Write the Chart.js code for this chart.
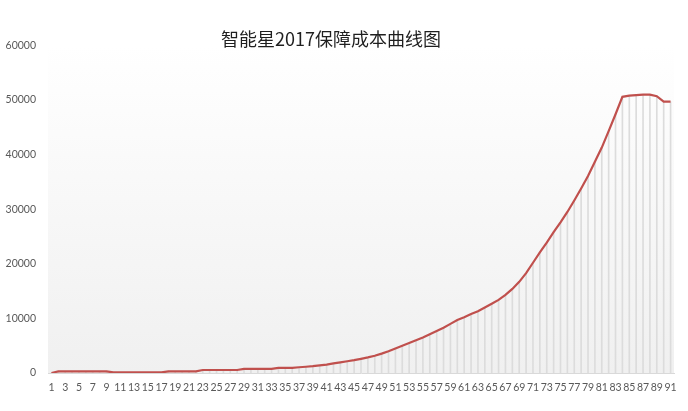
<!DOCTYPE html>
<html>
<head>
<meta charset="utf-8">
<script src="https://cdn.jsdelivr.net/npm/chart.js@4.4.1/dist/chart.umd.min.js"></script>
<style>
html,body{margin:0;padding:0;background:#fff;}
#wrap{width:688px;height:411px;position:relative;}
</style>
</head>
<body>
<div id="wrap"><canvas id="c"></canvas></div>
<script>
const titleText = '智能星2017保障成本曲线图';
const categories = [];
for (let i = 1; i <= 91; i++) categories.push(String(i));
const costValues = [
  0, 300, 300, 300, 300, 300, 300, 300, 300, 100,
  100, 100, 100, 100, 100, 100, 100, 300, 300, 300,
  300, 300, 550, 550, 550, 550, 550, 550, 750, 750,
  750, 750, 750, 950, 950, 950, 1050, 1150, 1250, 1400,
  1550, 1750, 1950, 2150, 2350, 2600, 2850, 3150, 3550, 4000,
  4500, 5000, 5500, 6000, 6500, 7100, 7700, 8300, 9000, 9700,
  10200, 10800, 11300, 12000, 12700, 13400, 14300, 15400, 16700, 18300,
  20200, 22100, 23900, 25800, 27600, 29500, 31600, 33800, 36100, 38700,
  41300, 44300, 47400, 50600, 50800, 50900, 51000, 51000, 50700, 49700,
  49700
];
const yMin = 0, yMax = 60000, yStep = 10000;

const bgPlugin = {
  id: 'plotBg',
  beforeDraw(chart) {
    const a = chart.chartArea, ctx = chart.ctx;
    const g = ctx.createLinearGradient(0, a.top, 0, a.bottom);
    g.addColorStop(0, '#ffffff');
    g.addColorStop(1, '#f0f0f0');
    ctx.save();
    ctx.fillStyle = g;
    ctx.fillRect(a.left, a.top, a.right - a.left, a.bottom - a.top);
    ctx.restore();
  }
};
const titlePlugin = {
  id: 'titleText',
  afterDraw(chart) {
    const ctx = chart.ctx;
    ctx.save();
    ctx.font = '18px "Noto Sans CJK SC"';
    ctx.fillStyle = '#1f1f1f';
    ctx.textAlign = 'center';
    ctx.textBaseline = 'middle';
    ctx.fillText(titleText, chart.width * 0.481, 39);
    ctx.restore();
  }
};

new Chart(document.getElementById('c'), {
  data: {
    labels: categories,
    datasets: [
      {
        type: 'line',
        data: costValues,
        borderColor: '#c0504d',
        borderWidth: 2.2,
        pointRadius: 0,
        tension: 0,
        fill: false,
        order: 0
      },
      {
        type: 'bar',
        data: costValues,
        backgroundColor: '#dcdcdc',
        barThickness: 1,
        order: 1
      }
    ]
  },
  options: {
    responsive: true,
    maintainAspectRatio: false,
    animation: false,
    layout: { padding: { top: 45.5, right: 14, left: 0, bottom: 0 } },
    plugins: { legend: { display: false }, tooltip: { enabled: false }, title: { display: false } },
    scales: {
      x: {
        offset: true,
        grid: { display: false, drawTicks: false },
        border: { display: true, color: '#d9d9d9', width: 1 },
        ticks: {
          autoSkip: false, maxRotation: 0, minRotation: 0, padding: 8,
          color: '#595959', font: { family: 'Lato', size: 10.5 },
          callback: function (v, i) { return i % 2 === 0 ? this.getLabelForValue(v) : ''; }
        },
        afterFit(s) { s.height = 38; }
      },
      y: {
        min: yMin, max: yMax,
        grid: { display: false, drawTicks: false },
        border: { display: false },
        ticks: {
          stepSize: yStep, padding: 12, color: '#595959', font: { family: 'Lato', size: 10.5 },
          callback: (v) => String(v)
        },
        afterFit(s) { s.width = 48; }
      }
    }
  },
  plugins: [bgPlugin, titlePlugin]
});
</script>
</body>
</html>
